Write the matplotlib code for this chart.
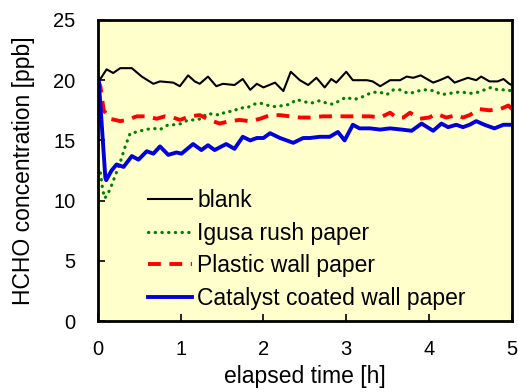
import matplotlib
matplotlib.use("Agg")
import matplotlib.pyplot as plt

plt.rcParams['font.family'] = ['Liberation Sans', 'DejaVu Sans']

# blank
t_blank = [0.0, 0.02, 0.105, 0.185, 0.27, 0.41, 0.53, 0.67, 0.75, 0.91, 0.99, 1.09, 1.17, 1.23, 1.33,
           1.43, 1.51, 1.65, 1.75, 1.84, 1.92, 2.0, 2.14, 2.24, 2.33, 2.44, 2.54, 2.64, 2.74, 2.82,
           2.88, 3.0, 3.08, 3.25, 3.32, 3.41, 3.53, 3.65, 3.73, 3.81, 3.90, 4.05, 4.13, 4.23, 4.31,
           4.47, 4.57, 4.63, 4.73, 4.83, 4.90, 4.97, 5.0]
c_blank = [20.0, 20.0, 20.9, 20.6, 21.0, 21.0, 20.3, 19.7, 19.9, 19.8, 19.5, 20.4, 19.9, 19.7, 20.3,
           19.5, 19.7, 19.6, 20.1, 19.2, 19.7, 19.4, 19.8, 19.1, 20.7, 20.0, 19.6, 20.2, 19.4, 20.1,
           19.8, 20.7, 20.0, 20.0, 19.9, 19.5, 20.0, 20.0, 20.3, 20.2, 20.4, 19.8, 20.0, 20.3, 19.8,
           20.2, 20.0, 20.3, 19.9, 19.9, 20.1, 19.7, 19.6]

# Igusa rush paper
t_igusa = [0.03, 0.06, 0.085, 0.145, 0.205, 0.27, 0.33, 0.39, 0.47, 0.57, 0.67, 0.75, 0.85, 0.93,
           1.01, 1.09, 1.17, 1.25, 1.31, 1.39, 1.47, 1.55, 1.63, 1.71, 1.80, 1.88, 1.96, 2.06, 2.14,
           2.24, 2.32, 2.40, 2.50, 2.58, 2.68, 2.76, 2.84, 2.92, 3.0, 3.08, 3.16, 3.25, 3.32, 3.41,
           3.49, 3.57, 3.65, 3.75, 3.83, 3.91, 3.99, 4.07, 4.15, 4.25, 4.33, 4.41, 4.49, 4.59, 4.67,
           4.75, 4.83, 4.94, 5.0]
c_igusa = [12.3, 10.8, 10.2, 10.9, 12.0, 13.2, 14.5, 15.6, 15.7, 15.9, 16.0, 15.9, 16.3, 16.3,
           16.4, 16.7, 16.7, 16.8, 17.2, 17.2, 17.1, 17.4, 17.4, 17.7, 17.7, 18.0, 18.1, 17.9, 17.8,
           17.9, 18.0, 18.4, 18.2, 18.1, 18.3, 18.1, 18.0, 18.3, 18.6, 18.4, 18.5, 18.8, 19.0, 19.0,
           18.8, 19.2, 19.2, 18.9, 19.0, 19.2, 19.2, 19.1, 18.8, 18.9, 19.0, 19.0, 18.9, 19.0, 19.2,
           19.4, 19.2, 19.2, 19.1]

# Plastic wall paper
t_plastic = [0.0, 0.03, 0.07, 0.145, 0.27, 0.35, 0.47, 0.59, 0.71, 0.81, 0.91, 0.99, 1.11, 1.23,
             1.35, 1.47, 1.59, 1.71, 1.84, 1.96, 2.08, 2.20, 2.32, 2.44, 2.56, 2.72, 2.88, 3.0,
             3.12, 3.29, 3.41, 3.53, 3.61, 3.69, 3.77, 3.89, 4.0, 4.09, 4.21, 4.33, 4.41, 4.49,
             4.61, 4.73, 4.86, 4.96, 5.0]
c_plastic = [20.0, 19.5, 17.5, 16.8, 16.6, 16.7, 17.0, 17.0, 16.8, 17.0, 16.9, 16.7, 17.0, 17.1,
             16.7, 16.4, 16.6, 16.7, 16.6, 16.8, 17.1, 17.1, 17.0, 16.9, 16.9, 17.0, 17.0, 17.0,
             17.0, 17.0, 16.9, 17.3, 16.9, 16.9, 17.3, 16.8, 16.9, 17.2, 16.9, 17.1, 16.9, 17.1,
             17.6, 17.5, 17.6, 17.9, 17.6]

# Catalyst coated wall paper
t_cat = [0.0, 0.01, 0.09, 0.1, 0.165, 0.225, 0.31, 0.41, 0.49, 0.59, 0.67, 0.75, 0.85, 0.95, 1.01,
         1.15, 1.25, 1.33, 1.41, 1.55, 1.65, 1.75, 1.84, 1.92, 2.0, 2.08, 2.2, 2.36, 2.48, 2.56,
         2.68, 2.80, 2.90, 2.98, 3.08, 3.16, 3.29, 3.41, 3.53, 3.67, 3.79, 3.91, 4.05, 4.15,
         4.23, 4.33, 4.41, 4.49, 4.57, 4.67, 4.79, 4.90, 5.0]
c_cat = [20.2, 20.0, 11.9, 11.7, 12.5, 13.0, 12.8, 13.7, 13.4, 14.1, 13.9, 14.5, 13.8, 14.0, 13.9,
         14.7, 14.2, 14.6, 14.2, 14.7, 14.3, 15.3, 15.0, 15.2, 15.2, 15.6, 15.2, 14.8, 15.2, 15.2,
         15.3, 15.3, 15.7, 15.0, 16.3, 16.0, 16.0, 15.9, 16.0, 15.9, 15.8, 16.4, 15.8, 16.4,
         16.1, 16.3, 16.1, 16.3, 16.6, 16.3, 16.0, 16.3, 16.3]

x_ticks = [0, 1, 2, 3, 4, 5]
y_ticks = [0, 5, 10, 15, 20, 25]

fig = plt.figure(figsize=(5.18, 3.92), dpi=100)
ax = fig.add_axes([0.189, 0.181, 0.799, 0.768])
ax.set_facecolor('#FFFFCC')

ax.plot(t_blank, c_blank, color='black', lw=1.5, label='blank')
ax.plot(t_igusa, c_igusa, color='#008000', lw=2.3, linestyle=(0, (0.1, 2.0)),
        dash_capstyle='round', label='Igusa rush paper')
ax.plot(t_plastic, c_plastic, color='#FF0000', lw=2.8, linestyle=(0, (3.3, 2.2)),
        label='Plastic wall paper')
ax.plot(t_cat, c_cat, color='#0000DD', lw=2.8, label='Catalyst coated wall paper')

ax.set_xlim(0, 5)
ax.set_ylim(0, 25)
ax.set_xticks(x_ticks)
ax.set_yticks(y_ticks)
ax.tick_params(direction='in', length=5, width=1.2, labelsize=14.5, colors='black')
ax.tick_params(axis='x', pad=14)
ax.tick_params(axis='y', pad=16)
for s in ax.spines.values():
    s.set_linewidth(2)
    s.set_color('black')

ax.set_xlabel('elapsed time [h]', fontsize=16.5, labelpad=4)
ax.set_ylabel('HCHO concentration [ppb]', fontsize=16.5, labelpad=13)

leg = ax.legend(loc='upper left', bbox_to_anchor=(0.121, 0.438), frameon=False, fontsize=16.5,
                handlelength=1.9, handletextpad=0.26, labelspacing=0.42, borderaxespad=0,
                borderpad=0)

fig.savefig('out.png', dpi=100)
